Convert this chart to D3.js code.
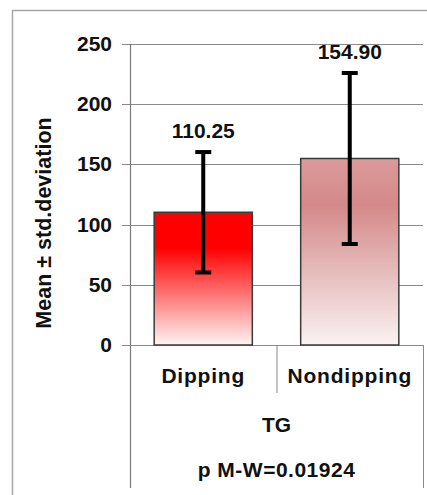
<!DOCTYPE html>
<html>
<head>
  <script src="https://d3js.org/d3.v7.min.js"></script>
  <style>
    body { margin: 0; background: #fff; }
    text { font-family: "Liberation Sans", Arial, sans-serif; font-weight: bold; fill: #111; }
  </style>
</head>
<body>
  <script>
    // chart values
    var categories = ["Dipping", "Nondipping"];
    var means = [110.25, 154.90];
    var stdDevs = [50, 71];
    var yTicks = [0, 50, 100, 150, 200, 250];
    var groupLabel = "TG";
    var testLabel = "p M-W=0.01924";
    var yTitle = "Mean \u00b1 std.deviation";

    var width = 427,
        height = 495;

    var svg = d3.select('body')
      .append('svg')
      .attr('width', width)
      .attr('height', height);

    var plotLeft = 130, plotRight = 423, plotTop = 44, plotBase = 345, tableBottom = 488;

    var x = d3.scaleBand()
      .domain(categories)
      .range([plotLeft, plotRight])
      .paddingInner(0.33)
      .paddingOuter(0.165);

    var xCell = d3.scaleBand()
      .domain(categories)
      .range([plotLeft, plotRight]);

    var y = d3.scaleLinear()
      .domain([0, 250])
      .range([plotBase, plotTop]);

    // gradients for the two bars
    var defs = svg.append('defs');
    var gradStops = [
      [["0%", "#ff0000"], ["27%", "#ff0000"], ["100%", "#fff4f4"]],
      [["0%", "#dc9a9a"], ["25%", "#d48989"], ["100%", "#faf2f2"]]
    ];
    gradStops.forEach(function(stops, i) {
      var g = defs.append('linearGradient')
        .attr('id', 'grad' + i)
        .attr('x1', 0).attr('y1', 0).attr('x2', 0).attr('y2', 1);
      stops.forEach(function(s) {
        g.append('stop').attr('offset', s[0]).attr('stop-color', s[1]);
      });
    });

    // outer frame (top and left only)
    svg.append('line').attr('x1', 12).attr('x2', width).attr('y1', 10.5).attr('y2', 10.5)
      .attr('stroke', '#a8a8a8').attr('stroke-width', 1.5);
    svg.append('line').attr('x1', 12.5).attr('x2', 12.5).attr('y1', 10).attr('y2', height)
      .attr('stroke', '#a8a8a8').attr('stroke-width', 1.5);

    // gridlines and tick labels
    svg.selectAll('.grid')
      .data(yTicks)
      .enter()
      .append('line')
      .attr('x1', 122).attr('x2', plotRight)
      .attr('y1', function(d) { return Math.round(y(d)) + 0.5; })
      .attr('y2', function(d) { return Math.round(y(d)) + 0.5; })
      .attr('stroke', '#8a8a8a');

    svg.selectAll('.tick')
      .data(yTicks)
      .enter()
      .append('text')
      .attr('x', 112)
      .attr('y', function(d) { return y(d) + 7; })
      .attr('text-anchor', 'end')
      .style('font-size', '21px')
      .text(function(d) { return d; });

    // axis line and category table lines
    svg.append('line').attr('x1', plotLeft + 0.5).attr('x2', plotLeft + 0.5).attr('y1', plotTop).attr('y2', tableBottom)
      .attr('stroke', '#7a7a7a').attr('stroke-width', 1.2);
    svg.append('line').attr('x1', xCell(categories[1]) + 0.5).attr('x2', xCell(categories[1]) + 0.5)
      .attr('y1', plotBase).attr('y2', 393).attr('stroke', '#8a8a8a');
    svg.append('line').attr('x1', plotRight + 0.5).attr('x2', plotRight + 0.5)
      .attr('y1', plotBase).attr('y2', tableBottom).attr('stroke', '#8a8a8a');

    // bars
    svg.selectAll('.bar')
      .data(categories)
      .enter()
      .append('rect')
      .attr('x', function(d) { return x(d); })
      .attr('width', x.bandwidth())
      .attr('y', function(d, i) { return y(means[i]); })
      .attr('height', function(d, i) { return plotBase - y(means[i]); })
      .attr('fill', function(d, i) { return 'url(#grad' + i + ')'; })
      .attr('stroke', '#3a3a3a')
      .attr('stroke-width', 1.5);

    // error bars
    var err = svg.selectAll('.err')
      .data(categories)
      .enter()
      .append('g');
    err.append('line')
      .attr('x1', function(d) { return x(d) + x.bandwidth() / 2; })
      .attr('x2', function(d) { return x(d) + x.bandwidth() / 2; })
      .attr('y1', function(d, i) { return y(means[i] + stdDevs[i]); })
      .attr('y2', function(d, i) { return y(means[i] - stdDevs[i]); })
      .attr('stroke', '#000').attr('stroke-width', 4);
    [1, -1].forEach(function(sign) {
      err.append('line')
        .attr('x1', function(d) { return x(d) + x.bandwidth() / 2 - 8; })
        .attr('x2', function(d) { return x(d) + x.bandwidth() / 2 + 8; })
        .attr('y1', function(d, i) { return y(means[i] + sign * stdDevs[i]); })
        .attr('y2', function(d, i) { return y(means[i] + sign * stdDevs[i]); })
        .attr('stroke', '#000').attr('stroke-width', 4);
    });

    // value labels
    svg.selectAll('.val')
      .data(categories)
      .enter()
      .append('text')
      .attr('x', function(d) { return x(d) + x.bandwidth() / 2; })
      .attr('y', function(d, i) { return y(means[i] + stdDevs[i]) - 14; })
      .attr('text-anchor', 'middle')
      .style('font-size', '21px')
      .text(function(d, i) { return means[i].toFixed(2); });

    // category labels
    svg.selectAll('.cat')
      .data(categories)
      .enter()
      .append('text')
      .attr('x', function(d) { return xCell(d) + xCell.bandwidth() / 2; })
      .attr('y', 383)
      .attr('text-anchor', 'middle')
      .style('font-size', '21px')
      .style('letter-spacing', '0.8px')
      .text(function(d) { return d; });

    svg.append('text')
      .attr('x', (plotLeft + plotRight) / 2).attr('y', 432)
      .attr('text-anchor', 'middle')
      .style('font-size', '21px')
      .text(groupLabel);

    svg.append('text')
      .attr('x', (plotLeft + plotRight) / 2).attr('y', 477)
      .attr('text-anchor', 'middle')
      .style('font-size', '21px')
      .style('letter-spacing', '0.5px')
      .text(testLabel);

    // y axis title
    svg.append('text')
      .attr('transform', 'translate(51,' + 223 + ') rotate(-90)')
      .attr('text-anchor', 'middle')
      .style('font-size', '21.5px')
      .text(yTitle);
  </script>
</body>
</html>
